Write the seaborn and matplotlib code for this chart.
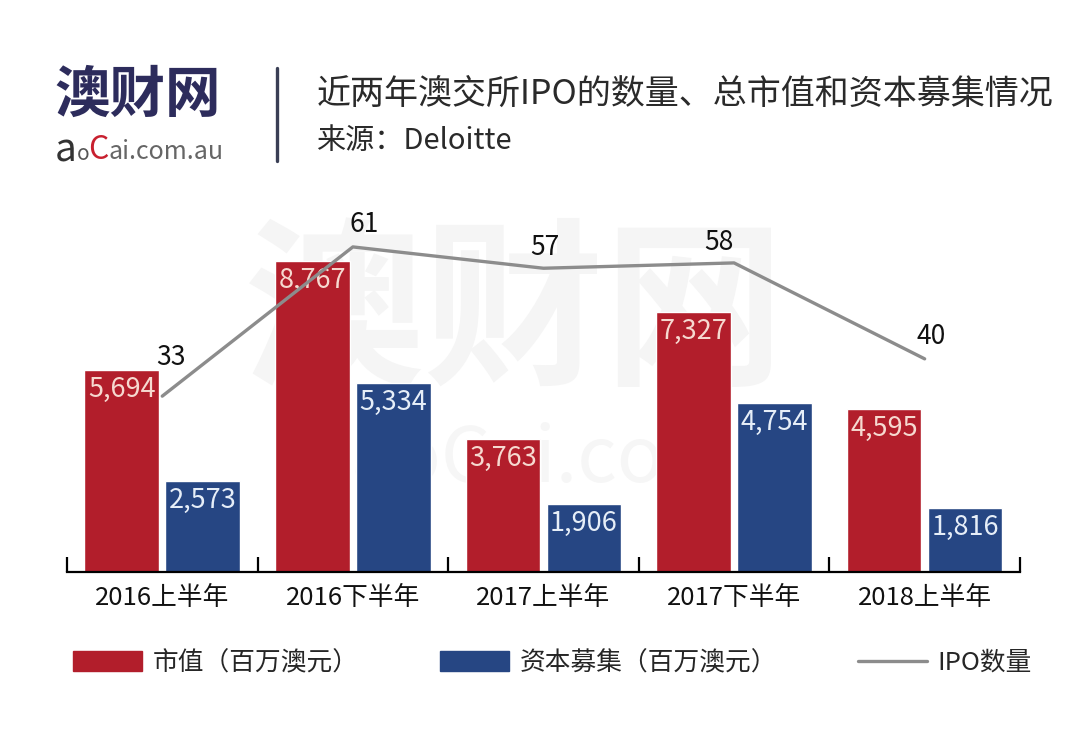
import pandas as pd
import matplotlib.pyplot as plt
import seaborn as sns
from matplotlib.patches import Patch
from matplotlib.lines import Line2D

periods = ["2016上半年", "2016下半年", "2017上半年", "2017下半年", "2018上半年"]
market_cap = [5694, 8767, 3763, 7327, 4595]       # 市值（百万澳元）
capital_raised = [2573, 5334, 1906, 4754, 1816]   # 资本募集（百万澳元）
ipo_count = [33, 61, 57, 58, 40]

series_names = ["市值（百万澳元）", "资本募集（百万澳元）"]
line_name = "IPO数量"

RED = "#B21E2B"
BLUE = "#264683"
GREY = "#8C8C8C"

sns.set_style("white")
plt.rcParams["font.family"] = ["Noto Sans CJK SC", "DejaVu Sans"]

df = pd.DataFrame({
    "period": periods * 2,
    "series": [series_names[0]] * len(periods) + [series_names[1]] * len(periods),
    "value": market_cap + capital_raised,
})
line_df = pd.DataFrame({"x": range(len(periods)), "count": ipo_count})

fig = plt.figure(figsize=(10.8, 7.4), dpi=100)
ax = fig.add_axes([0.062, 0.227, 0.8824, 0.5027])

# faint watermark behind the plot
ax.text(0.47, 0.68, "澳财网", transform=ax.transAxes, fontsize=130, fontweight="bold",
        color="#f5f5f5", ha="center", va="center", zorder=0)
ax.text(0.50, 0.30, "aoCai.com", transform=ax.transAxes, fontsize=56,
        color="#f6f6f6", ha="center", va="center", zorder=0)

sns.barplot(data=df, x="period", y="value", hue="series", order=periods,
            hue_order=series_names, palette=[RED, BLUE], width=0.85, gap=0.08,
            saturation=1, legend=False, ax=ax, zorder=2)

label_colors = ["#F6D9D0", "#E6EEF8"]
for cont, values, tc in zip(ax.containers, [market_cap, capital_raised], label_colors):
    for bar, v in zip(cont, values):
        ax.annotate(f"{v:,}", (bar.get_x() + bar.get_width() / 2, bar.get_height()),
                    xytext=(0, -14), textcoords="offset points", ha="center",
                    va="center", fontsize=19.5, color=tc, zorder=3)

ax.set_xlim(-0.5, len(periods) - 0.5)
ax.set_ylim(0, 10490)
ax.set_xlabel("")
ax.set_ylabel("")
ax.set_yticks([])
for side in ["left", "right", "top"]:
    ax.spines[side].set_visible(False)
ax.spines["bottom"].set_color("black")
ax.spines["bottom"].set_linewidth(1.6)
ax.tick_params(axis="x", which="major", length=0, pad=9, labelsize=18.5, labelcolor="#111111")
ax.set_xticks([i - 0.5 for i in range(len(periods) + 1)], minor=True)
ax.tick_params(axis="x", which="minor", bottom=True, direction="in", length=11,
               width=1.6, color="black")

ax2 = ax.twinx()
sns.lineplot(data=line_df, x="x", y="count", color=GREY, linewidth=2.4, ax=ax2)
ax2.set_ylim(0, 69.8)
ax2.set_xlim(-0.5, len(periods) - 0.5)
ax2.set_yticks([])
ax2.set_xlabel("")
ax2.set_ylabel("")
for side in ["left", "right", "top", "bottom"]:
    ax2.spines[side].set_visible(False)

nudges = [(6, 28), (8, 16), (1, 15), (-11, 15), (5, 16)]
for i, (c, off) in enumerate(zip(ipo_count, nudges)):
    ax2.annotate(str(c), (i, c), xytext=off, textcoords="offset points",
                 ha="center", va="center", fontsize=19, color="#111111",
                 annotation_clip=False)

# header: logo, divider, title
fig.text(0.050, 0.870, "澳财网", fontsize=40, fontweight="bold", color="#2D2C5C",
         ha="left", va="center")
fig.text(0.051, 0.797, "a", fontsize=28, color="#333333", ha="left", va="center")
fig.text(0.071, 0.792, "o", fontsize=15, color="#555555", ha="left", va="center")
fig.text(0.082, 0.797, "C", fontsize=23, color="#C8202F", ha="left", va="center")
fig.text(0.100, 0.795, "ai.com.au", fontsize=18, color="#666666", ha="left", va="center")
fig.add_artist(Line2D([0.2565, 0.2565], [0.782, 0.908], color="#3A3F55", linewidth=2.4))

fig.text(0.293, 0.872, "近两年澳交所IPO的数量、总市值和资本募集情况", fontsize=24.5,
         color="#2a2a2a", ha="left", va="center")
fig.text(0.293, 0.810, "来源：Deloitte", fontsize=21, color="#2a2a2a",
         ha="left", va="center")

handles = [Patch(color=RED), Patch(color=BLUE), Line2D([], [], color=GREY, linewidth=2.4)]
fig.legend(handles, series_names + [line_name], loc="center left",
           bbox_to_anchor=(0.0676, 0.104), ncol=3, frameon=False, fontsize=18.5,
           handlelength=2.7, handleheight=0.8, handletextpad=0.4,
           columnspacing=3.15, borderpad=0, borderaxespad=0)

fig.savefig("out.png", dpi=100, facecolor="white")
